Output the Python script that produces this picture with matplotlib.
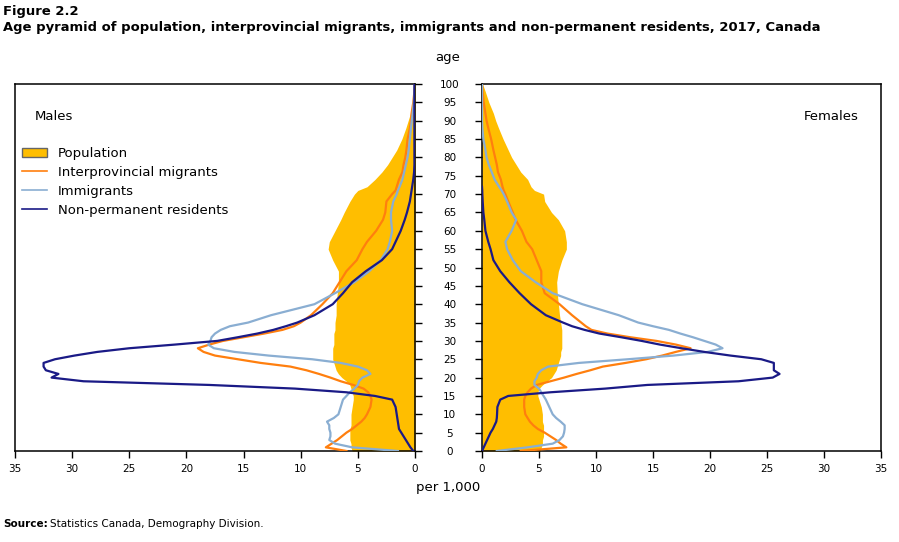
import numpy as np
import matplotlib
matplotlib.use("Agg")
import matplotlib.pyplot as plt
from matplotlib.lines import Line2D
from matplotlib.patches import Patch

ages = [0, 1, 2, 3, 4, 5, 6, 7, 8, 9, 10, 12, 14, 15, 16, 17, 18, 19,
        20, 21, 22, 23, 24, 25, 26, 27, 28, 29, 30, 31, 32, 33, 34, 35,
        37, 40, 43, 46, 49, 52, 55, 57, 60, 63, 65, 68, 70, 71, 72, 74,
        76, 78, 80, 82, 85, 88, 90, 92, 95, 98, 100]

# per 1,000 - males
pop_m = [5.5, 5.6, 5.6, 5.7, 5.7, 5.7, 5.7, 5.6, 5.6, 5.6, 5.6, 5.5, 5.4, 5.4, 5.5, 5.6, 5.7, 6.0,
         6.4, 6.7, 6.9, 7.0, 7.1, 7.2, 7.2, 7.2, 7.2, 7.1, 7.1, 7.1, 7.1, 7.0, 7.0, 7.0,
         6.9, 6.9, 6.8, 6.7, 6.7, 7.2, 7.6, 7.5, 7.0, 6.5, 6.2, 5.7, 5.3, 5.0, 4.2, 3.5,
         2.9, 2.4, 2.0, 1.6, 1.15, 0.8, 0.6, 0.4, 0.22, 0.08, 0.03]
ipm_m = [6.0, 7.8, 7.3, 6.8, 6.4, 6.0, 5.5, 5.1, 4.7, 4.4, 4.2, 3.9, 3.8, 3.9, 4.1, 4.5, 5.4, 6.5,
         7.4, 8.4, 9.5, 10.9, 13.5, 15.5, 17.5, 18.5, 19.0, 18.0, 16.8, 15.0, 13.2, 11.6, 10.6, 10.0,
         9.1, 8.1, 7.2, 6.6, 6.0, 5.1, 4.6, 4.2, 3.4, 2.8, 2.6, 2.5, 2.0, 1.7, 1.6, 1.4,
         1.1, 1.0, 0.85, 0.75, 0.65, 0.45, 0.35, 0.3, 0.15, 0.05, 0.0]
imm_m = [1.5, 5.5, 7.0, 7.5, 7.4, 7.4, 7.5, 7.5, 7.7, 7.1, 6.7, 6.5, 6.3, 6.0, 5.7, 5.3, 5.0, 4.9,
         4.6, 3.9, 4.2, 5.0, 6.5, 9.0, 12.8, 15.8, 17.6, 18.1, 17.9, 17.8, 17.5, 17.0, 16.2, 14.6,
         12.6, 8.8, 7.0, 5.3, 4.0, 3.0, 2.4, 2.2, 2.0, 2.1, 2.1, 1.9, 1.6, 1.5, 1.35, 1.1,
         0.95, 0.8, 0.65, 0.55, 0.45, 0.35, 0.28, 0.2, 0.1, 0.04, 0.0]
npr_m = [0.15, 0.4, 0.6, 0.8, 1.0, 1.2, 1.4, 1.45, 1.5, 1.55, 1.6, 1.7, 2.0, 3.5, 6.0, 10.5, 18.0, 29.0,
         31.8, 31.2, 32.3, 32.5, 32.5, 31.5, 29.8, 27.8, 25.0, 21.0, 17.3, 15.5, 13.8, 12.4, 11.3, 10.3,
         8.8, 7.2, 6.3, 5.5, 4.3, 2.9, 2.0, 1.7, 1.25, 0.9, 0.7, 0.45, 0.35, 0.3, 0.25, 0.15,
         0.08, 0.05, 0.05, 0.05, 0.05, 0.05, 0.05, 0.05, 0.05, 0.05, 0.05]

# per 1,000 - females
pop_f = [5.1, 5.2, 5.3, 5.3, 5.4, 5.4, 5.4, 5.4, 5.3, 5.3, 5.3, 5.2, 5.0, 4.9, 4.9, 5.0, 5.3, 5.7,
         6.1, 6.3, 6.5, 6.6, 6.7, 6.8, 6.9, 6.9, 7.0, 7.0, 7.0, 7.0, 7.0, 7.0, 6.95, 6.9,
         6.8, 6.7, 6.6, 6.55, 6.7, 7.0, 7.4, 7.4, 7.25, 6.7, 6.1, 5.5, 5.4, 4.6, 4.3, 4.0,
         3.4, 3.0, 2.6, 2.3, 1.85, 1.45, 1.2, 1.0, 0.6, 0.28, 0.05]
ipm_f = [3.4, 7.4, 6.9, 6.5, 6.0, 5.5, 4.9, 4.5, 4.2, 4.0, 3.8, 3.7, 3.7, 3.8, 4.0, 4.3, 4.8, 6.0,
         7.2, 8.3, 9.5, 10.6, 12.6, 14.4, 15.8, 17.0, 18.3, 17.0, 15.3, 13.0, 11.0, 9.6, 9.1, 8.7,
         7.9, 6.8, 5.5, 5.2, 5.2, 4.8, 4.4, 3.9, 3.5, 2.95, 2.7, 2.3, 2.05, 1.9, 1.8, 1.65,
         1.4, 1.3, 1.15, 1.0, 0.8, 0.55, 0.4, 0.3, 0.15, 0.05, 0.0]
imm_f = [1.3, 4.0, 6.2, 6.8, 7.1, 7.2, 7.25, 7.25, 6.9, 6.5, 6.2, 5.9, 5.6, 5.4, 5.2, 5.0, 4.6, 4.6,
         4.8, 4.9, 5.2, 5.8, 8.5, 12.8, 16.8, 19.8, 21.1, 20.5, 19.5, 18.5, 17.4, 16.4, 15.0, 13.7,
         12.0, 8.8, 6.2, 4.7, 3.4, 2.7, 2.2, 2.05, 2.6, 3.0, 2.6, 2.2, 1.9, 1.72, 1.5, 1.1,
         0.85, 0.6, 0.4, 0.3, 0.12, 0.03, 0.0, 0.0, 0.0, 0.0, 0.0]
npr_f = [0.0, 0.15, 0.3, 0.45, 0.6, 0.75, 0.95, 1.1, 1.25, 1.3, 1.32, 1.35, 1.6, 2.3, 6.0, 10.8, 14.5, 22.5,
         25.5, 26.1, 25.6, 25.6, 25.6, 24.5, 21.8, 19.5, 17.5, 15.6, 14.0, 12.2, 10.3, 9.0, 7.9, 7.1,
         5.6, 4.3, 3.3, 2.4, 1.6, 1.0, 0.75, 0.55, 0.3, 0.2, 0.12, 0.06, 0.03, 0.02, 0.0, np.nan,
         np.nan, np.nan, np.nan, np.nan, np.nan, np.nan, np.nan, np.nan, np.nan, np.nan, np.nan]

xticks = [0, 5, 10, 15, 20, 25, 30, 35]
yticks = list(range(0, 101, 5))

c_pop = "#FFBE00"
c_ipm = "#FF7F0E"
c_imm = "#8AAED2"
c_npr = "#1A1A86"

plt.rcParams['font.family'] = ['DejaVu Sans']

fig = plt.figure(figsize=(8.99, 5.42), dpi=100)
W, H = 899, 542
ax_l = fig.add_axes([15 / W, 1 - 451 / H, 400 / W, 367 / H])
ax_r = fig.add_axes([482 / W, 1 - 451 / H, 399 / W, 367 / H])

for ax, pop, ipm, imm, npr in [(ax_l, pop_m, ipm_m, imm_m, npr_m),
                               (ax_r, pop_f, ipm_f, imm_f, npr_f)]:
    ax.fill_betweenx(ages, 0, pop, color=c_pop, lw=0, zorder=1)
    ax.plot(ipm, ages, color=c_ipm, lw=1.6, zorder=3)
    ax.plot(imm, ages, color=c_imm, lw=1.6, zorder=3)
    ax.plot(npr, ages, color=c_npr, lw=1.6, zorder=4)
    ax.set_ylim(0, 100)
    ax.set_xticks(xticks)
    ax.set_xticklabels([str(t) for t in xticks])
    ax.tick_params(axis='x', direction='out', length=5, width=1, labelsize=7.5, pad=4)
    for s in ax.spines.values():
        s.set_linewidth(1.1)

ax_l.set_xlim(35, 0)
ax_r.set_xlim(0, 35)

# age ticks between the panels, labels centred in the gap
ax_l.yaxis.tick_right()
ax_l.set_yticks(yticks)
ax_l.set_yticklabels([str(t) for t in yticks])
ax_l.tick_params(axis='y', direction='out', length=5, width=1, labelsize=7.5, pad=20)
for lab in ax_l.get_yticklabels():
    lab.set_horizontalalignment('center')
ax_r.set_yticks(yticks)
ax_r.set_yticklabels([])
ax_r.tick_params(axis='y', direction='out', length=5, width=1)

fig.text(448 / W, 1 - 58 / H, "age", ha='center', va='center', fontsize=9.5)
fig.text(448 / W, 1 - 487 / H, "per 1,000", ha='center', va='center', fontsize=9.5)
fig.text(35 / W, 1 - 117 / H, "Males", ha='left', va='center', fontsize=9.5)
fig.text(859 / W, 1 - 117 / H, "Females", ha='right', va='center', fontsize=9.5)

fig.text(3 / W, 1 - 11 / H, "Figure 2.2", ha='left', va='center', fontsize=9.45, fontweight='bold')
fig.text(3 / W, 1 - 27 / H,
         "Age pyramid of population, interprovincial migrants, immigrants and non-permanent residents, 2017, Canada",
         ha='left', va='center', fontsize=9.45, fontweight='bold')
fig.text(3 / W, 1 - 524 / H, "Source:", ha='left', va='center', fontsize=7.5, fontweight='bold')
fig.text(50 / W, 1 - 524 / H, "Statistics Canada, Demography Division.", ha='left', va='center', fontsize=7.5)

handles = [Patch(facecolor=c_pop, edgecolor='#666666', linewidth=1),
           Line2D([], [], color=c_ipm, lw=1.2),
           Line2D([], [], color=c_imm, lw=1.2),
           Line2D([], [], color=c_npr, lw=1.2)]
labels = ["Population", "Interprovincial migrants", "Immigrants", "Non-permanent residents"]
fig.legend(handles, labels, loc='upper left', bbox_to_anchor=(22 / W, 1 - 147 / H),
           frameon=False, fontsize=9.5, handlelength=1.9, handletextpad=0.8,
           labelspacing=0.45, borderaxespad=0, borderpad=0)

fig.savefig("out.png", dpi=100)
